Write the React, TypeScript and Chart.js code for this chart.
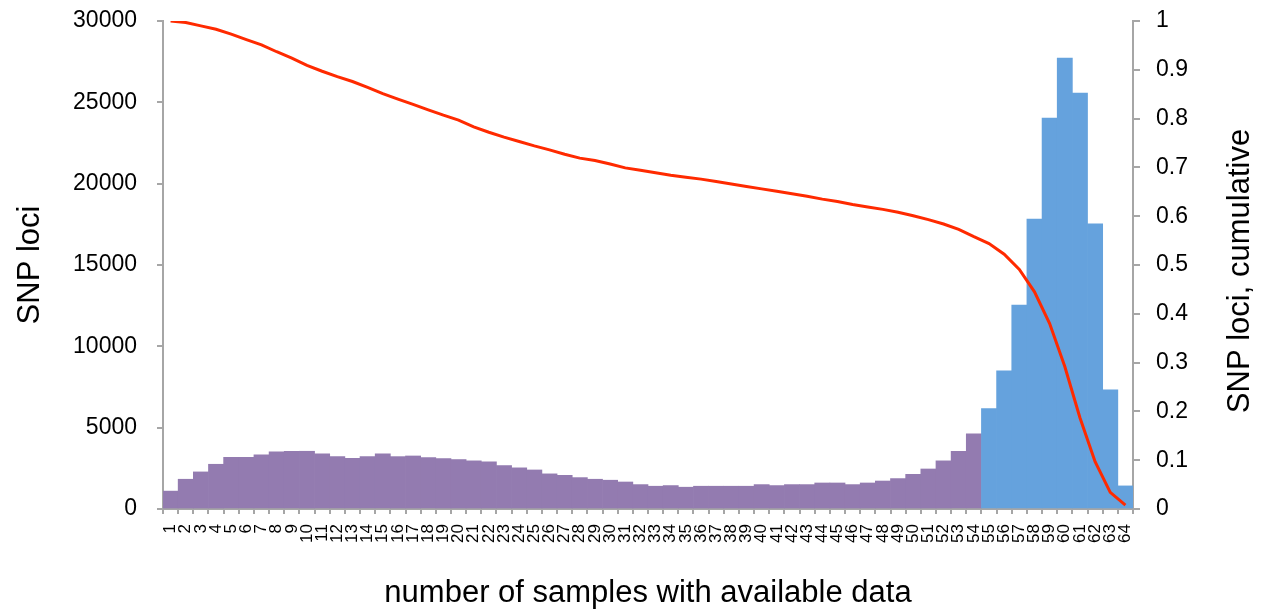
import React, { useEffect, useRef } from "react";
import { Chart, registerables } from "chart.js";

Chart.register(...registerables);

const categories: string[] = [
  "1", "2", "3", "4", "5", "6", "7", "8", "9", "10",
  "11", "12", "13", "14", "15", "16", "17", "18", "19", "20",
  "21", "22", "23", "24", "25", "26", "27", "28", "29", "30",
  "31", "32", "33", "34", "35", "36", "37", "38", "39", "40",
  "41", "42", "43", "44", "45", "46", "47", "48", "49", "50",
  "51", "52", "53", "54", "55", "56", "57", "58", "59", "60",
  "61", "62", "63", "64",
];

const snpLoci: number[] = [
  1100, 1830, 2280, 2750, 3180, 3180, 3330, 3510, 3550, 3550,
  3390, 3220, 3120, 3220, 3390, 3220, 3260, 3160, 3100, 3040,
  2960, 2900, 2670, 2530, 2400, 2160, 2070, 1930, 1830, 1770,
  1660, 1500, 1400, 1440, 1340, 1400, 1400, 1400, 1400, 1500,
  1440, 1500, 1500, 1600, 1600, 1500, 1600, 1720, 1870, 2130,
  2460, 2960, 3550, 4620, 6170, 8500, 12540, 17830, 24030, 27720,
  25570, 17530, 7330, 1420,
];

const cumulative: number[] = [
  1.0, 0.997, 0.99, 0.983, 0.973, 0.962, 0.951, 0.937, 0.924, 0.909,
  0.897, 0.886, 0.876, 0.864, 0.851, 0.84, 0.829, 0.818, 0.807, 0.797,
  0.783, 0.772, 0.762, 0.753, 0.744, 0.736, 0.727, 0.719, 0.714, 0.707,
  0.699, 0.694, 0.689, 0.684, 0.68, 0.676, 0.671, 0.666, 0.661, 0.656,
  0.651, 0.646, 0.641, 0.635, 0.63, 0.624, 0.619, 0.614, 0.608, 0.601,
  0.593, 0.584, 0.573, 0.558, 0.544, 0.522, 0.491, 0.445, 0.38, 0.292,
  0.187, 0.097, 0.034, 0.008,
];

const leftTicks: number[] = [0, 5000, 10000, 15000, 20000, 25000, 30000];
const rightTicks: number[] = [0, 0.1, 0.2, 0.3, 0.4, 0.5, 0.6, 0.7, 0.8, 0.9, 1];

const firstBlueIndex = 54; // sample count 55 onward drawn in blue

const FONT = '"Liberation Sans", Arial, sans-serif';
const PURPLE = "#937bb0";
const BLUE = "#65a2dd";
const RED = "#ff2a00";
const AXIS = "#a6a6a6";

const rightTitlePlugin = {
  id: "rightTitle",
  afterDraw(chart: any) {
    const s = chart.scales.y1;
    const area = chart.chartArea;
    const ctx = chart.ctx;
    ctx.save();
    ctx.translate(s.right - 29, (area.top + area.bottom) / 2 + 6);
    ctx.rotate(-Math.PI / 2);
    ctx.font = `31px ${FONT}`;
    ctx.fillStyle = "#000";
    ctx.textAlign = "center";
    ctx.textBaseline = "middle";
    ctx.fillText("SNP loci, cumulative", 0, 0);
    ctx.restore();
  },
};

export default function App() {
  const ref = useRef<HTMLCanvasElement | null>(null);

  useEffect(() => {
    if (!ref.current) return;
    const chart = new Chart(ref.current, {
      type: "bar",
      data: {
        labels: categories,
        datasets: [
          {
            type: "line",
            label: "cumulative",
            data: cumulative,
            yAxisID: "y1",
            borderColor: RED,
            borderWidth: 3,
            pointRadius: 0,
            tension: 0,
            order: 0,
          } as any,
          {
            type: "bar",
            label: "SNP loci",
            data: snpLoci,
            yAxisID: "y",
            backgroundColor: (c: any) => (c.dataIndex >= firstBlueIndex ? BLUE : PURPLE),
            borderWidth: 0,
            barPercentage: 1,
            categoryPercentage: 1,
            order: 1,
          },
        ],
      },
      options: {
        animation: false,
        responsive: true,
        maintainAspectRatio: false,
        layout: { padding: { top: 21, left: 0, right: 0, bottom: 0 } },
        plugins: { legend: { display: false }, tooltip: { enabled: false } },
        scales: {
          x: {
            grid: {
              display: true,
              drawOnChartArea: false,
              drawTicks: true,
              tickLength: 5,
              color: AXIS,
              lineWidth: 2,
              offset: true,
            },
            border: { display: true, color: AXIS, width: 2 },
            ticks: {
              autoSkip: false,
              minRotation: 90,
              maxRotation: 90,
              padding: 10,
              color: "#000",
              font: { family: FONT, size: 17 },
            },
            title: {
              display: true,
              text: "number of samples with available data",
              color: "#000",
              font: { family: FONT, size: 31 },
              padding: { top: -3, bottom: 0 },
            },
            afterFit: (s: any) => {
              s.height = 103;
              s.paddingLeft = 0;
              s.paddingRight = 0;
            },
          },
          y: {
            position: "left",
            min: 0,
            max: 30000,
            afterBuildTicks: (s: any) => {
              s.ticks = leftTicks.map((v) => ({ value: v }));
            },
            grid: {
              drawOnChartArea: false,
              drawTicks: true,
              tickLength: 6,
              color: AXIS,
              lineWidth: 2,
            },
            border: { display: true, color: AXIS, width: 2 },
            ticks: {
              padding: 20,
              color: "#000",
              font: { family: FONT, size: 23 },
              callback: (v: any) => String(v),
            },
            title: {
              display: true,
              text: "SNP loci",
              color: "#000",
              font: { family: FONT, size: 31 },
              padding: { top: 12, bottom: 0 },
            },
            afterFit: (s: any) => {
              s.width = 163;
              s.paddingTop = 0;
              s.paddingBottom = 0;
            },
          },
          y1: {
            position: "right",
            min: 0,
            max: 1,
            afterBuildTicks: (s: any) => {
              s.ticks = rightTicks.map((v) => ({ value: v }));
            },
            grid: {
              drawOnChartArea: false,
              drawTicks: true,
              tickLength: 7,
              color: AXIS,
              lineWidth: 2,
            },
            border: { display: true, color: AXIS, width: 2 },
            ticks: {
              padding: 16,
              color: "#000",
              font: { family: FONT, size: 23 },
              callback: (v: any) => String(Math.round(Number(v) * 10) / 10),
            },
            afterFit: (s: any) => {
              s.width = 136;
              s.paddingTop = 0;
              s.paddingBottom = 0;
            },
          },
        },
      },
      plugins: [rightTitlePlugin],
    });
    return () => chart.destroy();
  }, []);

  return (
    <div style={{ position: "fixed", left: 0, top: 0, width: 1269, height: 612, background: "#fff" }}>
      <canvas ref={ref} />
    </div>
  );
}
